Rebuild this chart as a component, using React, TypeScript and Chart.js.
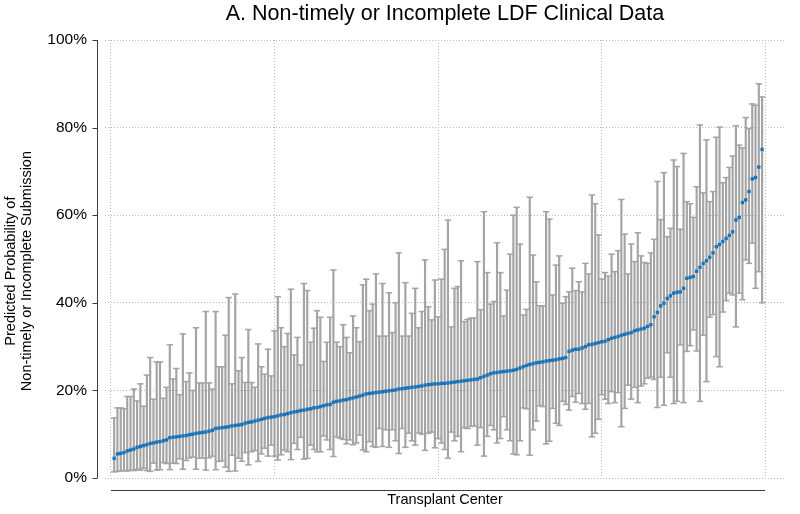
import React, { useEffect, useRef } from "react";
import { Chart, registerables } from "chart.js";

Chart.register(...registerables);

const TITLE = "A. Non-timely or Incomplete LDF Clinical Data";
const X_TITLE = "Transplant Center";
const Y_TITLE = ["Predicted Probability of      ", "Non-timely or Incomplete Submission      "];
const Y_TICKS = [0, 20, 40, 60, 80, 100];
const X_TICKS = [0, 50, 100, 150, 200];

// predicted probability (%) per transplant center, sorted
const predicted = [
  4.5, 5.5, 5.6, 5.8, 6.2, 6.4, 6.6, 7.0, 7.2, 7.4,
  7.6, 7.9, 8.0, 8.2, 8.3, 8.5, 8.7, 9.2, 9.3, 9.4,
  9.5, 9.6, 9.7, 9.9, 10.0, 10.2, 10.3, 10.4, 10.5, 10.7,
  10.9, 11.3, 11.4, 11.5, 11.6, 11.7, 11.9, 12.0, 12.1, 12.2,
  12.5, 12.7, 12.8, 13.0, 13.2, 13.4, 13.6, 13.8, 13.9, 14.0,
  14.2, 14.4, 14.5, 14.7, 14.9, 15.1, 15.2, 15.4, 15.5, 15.7,
  15.8, 16.0, 16.1, 16.3, 16.5, 16.7, 16.8, 17.3, 17.5, 17.6,
  17.8, 17.9, 18.1, 18.3, 18.5, 18.7, 18.9, 19.2, 19.3, 19.4,
  19.5, 19.6, 19.7, 19.8, 19.9, 20.0, 20.1, 20.3, 20.4, 20.5,
  20.6, 20.7, 20.8, 20.9, 21.0, 21.2, 21.3, 21.4, 21.5, 21.5,
  21.6, 21.6, 21.7, 21.8, 21.9, 22.0, 22.1, 22.2, 22.3, 22.4,
  22.5, 22.6, 22.9, 23.2, 23.5, 23.8, 24.0, 24.1, 24.2, 24.3,
  24.4, 24.5, 24.6, 24.8, 25.1, 25.4, 25.7, 25.9, 26.1, 26.3,
  26.4, 26.5, 26.7, 26.8, 26.9, 27.0, 27.2, 27.3, 27.5, 28.9,
  29.2, 29.4, 29.4, 29.7, 30.0, 30.4, 30.5, 30.7, 30.9, 31.1,
  31.2, 31.6, 31.9, 32.1, 32.3, 32.6, 32.8, 33.0, 33.2, 33.6,
  33.8, 34.0, 34.2, 34.6, 35.0, 36.8, 37.8, 39.3, 39.9, 41.0,
  41.6, 42.2, 42.4, 42.5, 43.3, 45.6, 45.8, 46.0, 47.2, 48.1,
  49.0, 49.6, 50.4, 51.4, 52.8, 53.3, 54.0, 54.7, 55.4, 56.2,
  58.9, 59.5, 62.9, 63.5, 65.4, 68.3, 68.6, 71.0, 75.0,
];

// lower confidence limit (%)
const lower = [
  1.4, 1.5, 1.6, 1.7, 1.6, 1.8, 1.7, 2.0, 1.8, 2.2,
  1.7, 1.5, 3.4, 1.8, 1.9, 3.5, 3.3, 1.9, 3.4, 3.3,
  4.4, 2.0, 4.0, 4.6, 4.8, 2.0, 4.5, 4.5, 1.8, 4.6,
  5.0, 1.9, 3.8, 3.9, 2.5, 1.5, 5.2, 1.6, 4.5, 3.8,
  5.8, 3.0, 6.0, 6.3, 3.8, 5.5, 6.8, 5.0, 7.5, 5.0,
  4.1, 5.3, 6.4, 6.0, 4.2, 7.9, 6.5, 9.3, 4.3, 4.5,
  7.5, 6.5, 6.0, 6.0, 9.6, 8.7, 6.5, 4.9, 9.4, 9.1,
  8.8, 7.8, 8.7, 7.6, 8.0, 9.8, 6.4, 6.0, 8.3, 7.2,
  7.0, 11.3, 7.2, 11.0, 7.0, 11.0, 8.5, 5.6, 11.3, 7.0,
  10.2, 8.5, 7.5, 10.3, 10.0, 6.3, 10.2, 10.5, 6.9, 9.0,
  8.0, 6.5, 4.5, 10.5, 8.5, 9.5, 6.0, 11.5, 11.3, 11.8,
  11.8, 7.5, 11.5, 5.0, 9.5, 12.0, 11.0, 8.0, 9.0, 14.0,
  11.0, 8.5, 5.5, 5.3, 8.5, 16.0, 15.8, 5.2, 11.0, 13.0,
  16.5, 16.3, 7.8, 8.4, 15.9, 12.5, 12.0, 17.5, 16.8, 15.5,
  18.6, 17.3, 19.3, 17.0, 15.7, 17.0, 9.4, 10.2, 13.4, 19.0,
  18.0, 17.0, 19.7, 17.2, 19.5, 11.7, 15.9, 21.2, 18.0, 20.7,
  17.2, 21.0, 21.5, 22.8, 23.0, 22.5, 16.1, 23.0, 16.6, 28.6,
  23.0, 17.0, 17.5, 30.4, 17.2, 28.9, 30.2, 33.8, 29.0, 17.5,
  32.6, 22.0, 36.7, 37.3, 27.7, 25.4, 37.9, 40.5, 42.2, 41.8,
  34.5, 42.2, 40.7, 49.8, 49.0, 53.6, 43.3, 47.1, 40.0,
];

// upper confidence limit (%)
const upper = [
  13.7, 16.0, 16.0, 15.8, 18.6, 18.6, 20.3, 17.6, 21.5, 16.4,
  23.5, 27.5, 18.0, 26.5, 26.5, 18.2, 20.7, 30.4, 22.6, 25.0,
  19.0, 32.9, 22.0, 24.0, 20.0, 34.3, 21.7, 21.7, 38.0, 21.7,
  20.3, 38.0, 25.4, 25.4, 32.6, 41.2, 21.5, 42.0, 24.5, 27.5,
  21.8, 33.9, 21.8, 20.7, 30.6, 25.4, 23.7, 29.4, 23.3, 33.6,
  41.4, 34.3, 30.0, 33.0, 43.1, 28.1, 32.1, 25.8, 44.4, 42.8,
  31.0, 34.2, 38.2, 36.7, 26.6, 31.0, 36.7, 47.5, 31.0, 30.0,
  35.0, 32.1, 28.6, 37.0, 34.3, 31.1, 44.1, 45.4, 38.2, 39.7,
  46.6, 32.4, 44.4, 32.4, 42.3, 33.2, 40.0, 51.4, 32.4, 44.6,
  32.4, 37.6, 43.3, 34.3, 38.0, 49.8, 39.1, 36.1, 45.2, 36.8,
  45.4, 52.2, 58.9, 34.5, 43.3, 43.7, 49.6, 35.7, 36.2, 36.5,
  36.5, 49.4, 38.4, 60.8, 46.9, 39.7, 40.3, 53.7, 46.9, 37.0,
  42.9, 51.1, 60.0, 61.8, 53.4, 37.2, 38.5, 64.1, 50.9, 44.8,
  39.3, 39.3, 60.8, 59.1, 41.8, 48.6, 50.7, 39.9, 41.4, 42.5,
  47.9, 42.8, 44.8, 42.5, 49.0, 46.6, 64.6, 62.6, 55.5, 45.4,
  46.9, 46.1, 51.1, 47.1, 51.9, 63.6, 55.7, 46.6, 53.4, 49.4,
  56.0, 50.7, 49.2, 49.0, 51.4, 54.5, 67.7, 59.0, 69.7, 55.1,
  57.0, 72.6, 71.1, 56.8, 74.1, 63.1, 62.6, 59.5, 66.5, 80.6,
  65.1, 77.2, 63.1, 65.4, 77.8, 80.1, 67.4, 68.6, 70.9, 73.5,
  80.4, 76.0, 75.4, 82.3, 79.8, 85.4, 85.1, 90.0, 87.0,
];

const centers = predicted.map((_, k) => k + 1);

const FONT = "'Liberation Sans', Arial, Helvetica, sans-serif";
const GRAY = "#a4a4a4";
const BLUE = "#1a74b9";
const GRID = "#b8b8b8";

export default function App() {
  const ref = useRef<HTMLCanvasElement | null>(null);

  useEffect(() => {
    if (!ref.current) return;

    const axisLines = {
      id: "axisLines",
      afterDraw(chart: any) {
        const { ctx, chartArea } = chart;
        const xs = chart.scales.x;
        const ys = chart.scales.y;
        ctx.save();
        ctx.strokeStyle = "#3c3c3c";
        ctx.lineWidth = 1;
        ctx.beginPath();
        const ax = Math.round(chartArea.left - 8) + 0.5;
        ctx.moveTo(ax, ys.getPixelForValue(Y_TICKS[Y_TICKS.length - 1]));
        ctx.lineTo(ax, ys.getPixelForValue(Y_TICKS[0]));
        Y_TICKS.forEach((v) => {
          const py = Math.round(ys.getPixelForValue(v)) + 0.5;
          ctx.moveTo(ax - 5, py);
          ctx.lineTo(ax, py);
        });
        const ay = Math.round(chartArea.bottom + 12) + 0.5;
        ctx.moveTo(xs.getPixelForValue(0), ay);
        ctx.lineTo(xs.getPixelForValue(centers[centers.length - 1]) + 3, ay);
        ctx.stroke();
        ctx.restore();
      },
    };

    const chart = new Chart(ref.current, {
      type: "scatter",
      data: {
        datasets: [
          {
            type: "scatter",
            data: centers.map((c, k) => ({ x: c, y: predicted[k] })),
            pointStyle: "rect",
            radius: 2.4,
            backgroundColor: BLUE,
            borderWidth: 0,
          },
          {
            type: "scatter",
            data: centers.map((c, k) => ({ x: c, y: upper[k] })),
            pointStyle: "line",
            radius: 3.2,
            borderColor: GRAY,
            borderWidth: 1.5,
          },
          {
            type: "scatter",
            data: centers.map((c, k) => ({ x: c, y: lower[k] })),
            pointStyle: "line",
            radius: 3.2,
            borderColor: GRAY,
            borderWidth: 1.5,
          },
          {
            type: "bar",
            data: centers.map((c, k) => ({ x: c, y: [lower[k], upper[k]] })) as any,
            backgroundColor: GRAY,
            borderWidth: 0,
            barThickness: 1.5,
          } as any,
        ],
      },
      options: {
        animation: false,
        responsive: false,
        events: [],
        layout: { padding: { left: 0, right: 15, top: 0, bottom: 0 } },
        plugins: {
          legend: { display: false },
          tooltip: { enabled: false },
          title: {
            display: true,
            text: TITLE,
            fullSize: false,
            color: "#000",
            font: { family: FONT, size: 21.5, weight: "normal", lineHeight: 1.2 },
            padding: { top: 1, bottom: 13.2 },
          },
        },
        scales: {
          x: {
            type: "linear",
            min: -1.8,
            max: 206,
            offset: false,
            afterBuildTicks: (s: any) => {
              s.ticks = X_TICKS.map((v) => ({ value: v }));
            },
            afterFit: (s: any) => {
              s.height = 36;
            },
            ticks: { display: false },
            grid: { color: GRID, lineWidth: 1, drawTicks: false, offset: false },
            border: { display: false, dash: [1, 2] },
            title: {
              display: true,
              text: X_TITLE,
              color: "#000",
              font: { family: FONT, size: 14.5, lineHeight: 1.1 },
              padding: { top: 0, bottom: 6 },
            },
          },
          y: {
            type: "linear",
            min: 0,
            max: 100,
            afterBuildTicks: (s: any) => {
              s.ticks = Y_TICKS.map((v) => ({ value: v }));
            },
            afterFit: (s: any) => {
              s.width = 105;
            },
            ticks: {
              callback: (v: any) => `${v}%`,
              color: "#000",
              padding: 18,
              font: { family: FONT, size: 15.5 },
            },
            grid: { color: GRID, lineWidth: 1, drawTicks: false },
            border: { display: false, dash: [1, 2] },
            title: {
              display: true,
              text: Y_TITLE,
              color: "#000",
              font: { family: FONT, size: 14.5, lineHeight: 1.1 },
              padding: { top: 3, bottom: 0 },
            },
          },
        },
      },
      plugins: [axisLines],
    });

    return () => chart.destroy();
  }, []);

  return (
    <div style={{ position: "absolute", left: 0, top: 0, width: 800, height: 514, background: "#fff" }}>
      <canvas ref={ref} width={800} height={514} style={{ display: "block" }} />
    </div>
  );
}
